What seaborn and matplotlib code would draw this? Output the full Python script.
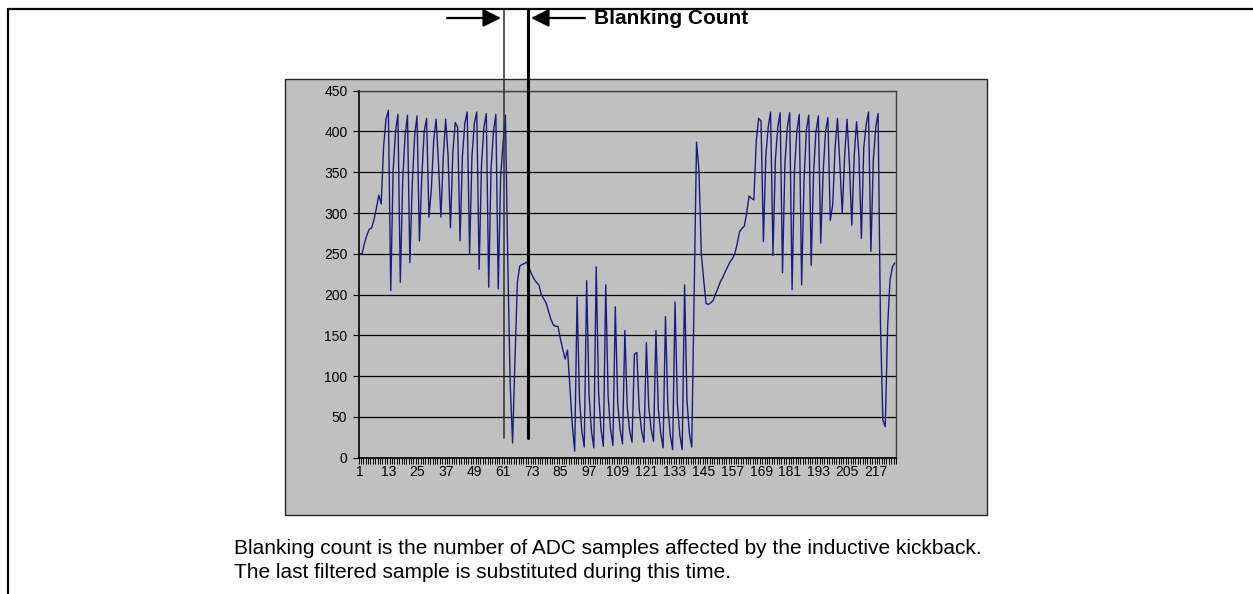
import numpy as np
import pandas as pd
import matplotlib
matplotlib.use("Agg")
import matplotlib.pyplot as plt
import seaborn as sns
from matplotlib.patches import Rectangle
from matplotlib.lines import Line2D

# ADC readings, one per sample
adc_counts = [
    250, 250, 263, 273, 280, 282, 292, 306, 322, 311,
    381, 415, 426, 205, 352, 400, 421, 215, 340, 395,
    420, 239, 335, 395, 419, 266, 345, 400, 416, 295,
    330, 390, 415, 360, 295, 370, 415, 370, 282, 375,
    411, 405, 266, 370, 410, 424, 250, 370, 410, 424,
    231, 360, 405, 422, 209, 355, 400, 421, 207, 345,
    385, 420, 240, 90, 18, 120, 215, 235, 237, 238,
    240, 232, 225, 219, 215, 212, 200, 195, 190, 180,
    170, 163, 161, 161, 146, 133, 121, 132, 85, 40,
    8, 197, 72, 32, 13, 217, 78, 33, 12, 234,
    80, 35, 14, 212, 75, 35, 15, 185, 68, 35,
    17, 156, 62, 33, 19, 127, 129, 60, 33, 19,
    141, 62, 35, 20, 156, 60, 30, 12, 173, 62,
    28, 10, 191, 65, 28, 10, 212, 70, 30, 13,
    200, 387, 353, 250, 218, 189, 188, 190, 193, 201,
    208, 216, 221, 228, 234, 240, 244, 250, 262, 277,
    281, 284, 300, 321, 318, 316, 388, 416, 413, 265,
    370, 405, 424, 248, 365, 405, 423, 227, 361, 405,
    423, 206, 352, 400, 421, 212, 340, 402, 420, 236,
    350, 400, 419, 263, 350, 400, 417, 291, 310, 380,
    416, 360, 300, 370, 415, 360, 285, 370, 412, 370,
    269, 380, 408, 424, 253, 365, 405, 422, 163, 46,
    38, 161, 218, 234, 239,
]
sample_index = list(range(1, len(adc_counts) + 1))

y_ticks = [0, 50, 100, 150, 200, 250, 300, 350, 400, 450]
x_tick_labels = list(range(1, 218, 12))

# samples bracketing the blanking interval
blank_start = 61.2
blank_end = 71.4
blank_floor = 24

annotation_label = "Blanking Count"
caption_lines = [
    "Blanking count is the number of ADC samples affected by the inductive kickback.",
    "The last filtered sample is substituted during this time.",
]

sns.set_style("white")
plt.rcParams["font.family"] = ["Liberation Sans", "DejaVu Sans"]
plt.rcParams["text.color"] = "black"

W, H = 1253, 594
fig = plt.figure(figsize=(W / 100, H / 100), dpi=100)
fig.patch.set_facecolor("white")


def fx(px):
    return px / W


def fy(py):
    return 1 - py / H


# page frame: top rule and left rule
fig.add_artist(Line2D([fx(8), 1.0], [fy(9), fy(9)], transform=fig.transFigure,
                      color="black", linewidth=1.6))
fig.add_artist(Line2D([fx(8), fx(8)], [fy(9), 0.0], transform=fig.transFigure,
                      color="black", linewidth=1.6))

# grey chart area
fig.add_artist(Rectangle((fx(285), fy(515)), fx(987) - fx(285), fy(79) - fy(515),
                         transform=fig.transFigure, facecolor="#C0C0C0",
                         edgecolor="#262626", linewidth=1.0, zorder=0))

ax = fig.add_axes([fx(358.5), fy(457.7), fx(896) - fx(358.5), fy(90.7) - fy(457.7)])
ax.set_facecolor("#C0C0C0")

df = pd.DataFrame({"sample": sample_index, "adc": adc_counts})
sns.lineplot(data=df, x="sample", y="adc", ax=ax, color="#1c1c80", linewidth=1.0)

n = len(adc_counts)
ax.set_xlim(0.5, n + 0.5)
ax.set_ylim(y_ticks[0], y_ticks[-1])
ax.set_yticks(y_ticks)
ax.set_yticklabels([str(v) for v in y_ticks])
ax.yaxis.grid(True, color="black", linewidth=0.9)
ax.xaxis.grid(False)
ax.set_axisbelow(True)

ax.set_xticks(x_tick_labels)
ax.set_xticklabels([str(v) for v in x_tick_labels])
ax.set_xticks(np.arange(0.5, n + 1, 1.0), minor=True)
ax.tick_params(axis="x", which="major", bottom=True, length=0, pad=5, labelsize=10,
               colors="black")
ax.tick_params(axis="x", which="minor", bottom=True, length=4, width=0.7,
               color="black", direction="out")
ax.tick_params(axis="y", which="major", left=True, length=4, width=0.8, pad=4,
               labelsize=10, direction="out", colors="black")
ax.set_xlabel("")
ax.set_ylabel("")

for side in ("left", "bottom"):
    ax.spines[side].set_color("black")
    ax.spines[side].set_linewidth(1.2)
for side in ("top", "right"):
    ax.spines[side].set_color("#404040")
    ax.spines[side].set_linewidth(1.0)

# blanking interval markers, running from near the trace up to the page rule
top_disp = fig.transFigure.transform((0, fy(10)))
top_data = ax.transData.inverted().transform(top_disp)[1]
ax.plot([blank_start, blank_start], [blank_floor, top_data], color="#303030",
        linewidth=1.1, clip_on=False, zorder=5)
ax.plot([blank_end, blank_end], [blank_floor, top_data], color="black",
        linewidth=2.2, clip_on=False, zorder=5)

arrow_y = H - 18
arrow_kw = dict(arrowstyle="-|>,head_length=0.9,head_width=0.45", color="black",
                lw=1.6, shrinkA=0, shrinkB=0, mutation_scale=12)
fig.add_artist(plt.Annotation("", xy=(501, arrow_y), xytext=(447, arrow_y),
                              xycoords="figure pixels", textcoords="figure pixels",
                              arrowprops=arrow_kw))
fig.add_artist(plt.Annotation("", xy=(531, arrow_y), xytext=(585, arrow_y),
                              xycoords="figure pixels", textcoords="figure pixels",
                              arrowprops=arrow_kw))
fig.text(fx(594), fy(18.5), annotation_label, fontsize=15, fontweight="bold",
         ha="left", va="center", color="black")

fig.text(fx(234), fy(548), caption_lines[0], fontsize=15, ha="left", va="center",
         color="black")
fig.text(fx(234), fy(572), caption_lines[1], fontsize=15, ha="left", va="center",
         color="black")

fig.savefig("out.png", dpi=100)
